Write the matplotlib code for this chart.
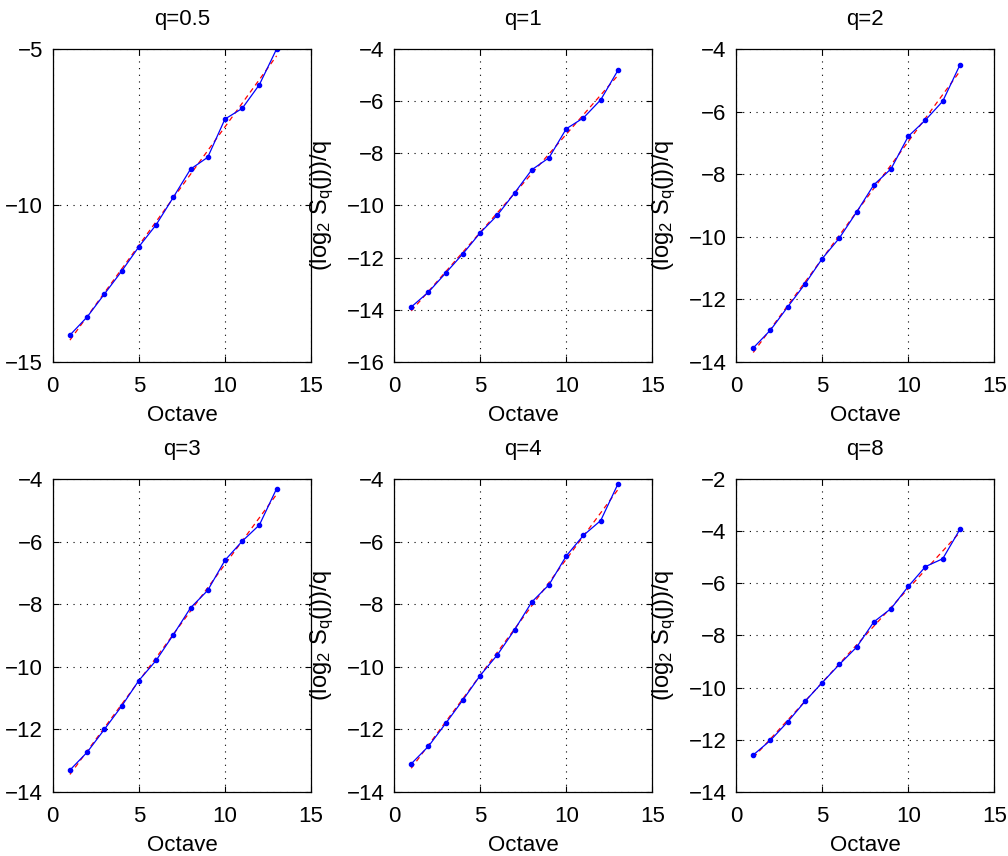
import numpy as np
import matplotlib
matplotlib.use("Agg")
import matplotlib.pyplot as plt

plt.rcParams['font.family'] = ['Liberation Sans', 'DejaVu Sans']
plt.rcParams['mathtext.default'] = 'regular'

# Octave index
octaves = np.arange(1, 14)

# (log2 Sq(j))/q, one list per q
q_titles = ["q=0.5", "q=1", "q=2", "q=3", "q=4", "q=8"]
y_q05 = [-14.14, -13.56, -12.83, -12.10, -11.32, -10.62, -9.74, -8.84, -8.46, -7.24, -6.90, -6.14, -5.00]
y_q1 = [-13.89, -13.32, -12.59, -11.85, -11.05, -10.37, -9.52, -8.63, -8.17, -7.06, -6.64, -5.95, -4.82]
y_q2 = [-13.55, -12.98, -12.24, -11.51, -10.70, -10.04, -9.21, -8.34, -7.83, -6.79, -6.27, -5.67, -4.51]
y_q3 = [-13.30, -12.73, -12.00, -11.26, -10.44, -9.80, -8.98, -8.12, -7.56, -6.60, -5.99, -5.47, -4.31]
y_q4 = [-13.10, -12.54, -11.81, -11.06, -10.28, -9.62, -8.82, -7.93, -7.38, -6.46, -5.80, -5.33, -4.16]
y_q8 = [-12.58, -12.02, -11.31, -10.53, -9.81, -9.11, -8.45, -7.48, -6.97, -6.12, -5.36, -5.06, -3.93]
series = [y_q05, y_q1, y_q2, y_q3, y_q4, y_q8]

# y-axis limits and tick step for each panel
y_limits = [(-15, -5), (-16, -4), (-14, -4), (-14, -4), (-14, -4), (-14, -2)]
y_steps = [5, 2, 2, 2, 2, 2]

fig = plt.figure(figsize=(10.08, 8.56), dpi=100)

# axes boxes (left, bottom, width, height) in figure fraction
lefts = [0.0523, 0.3909, 0.7302]
bottoms = [0.5771, 0.0748]
w, h = 0.2563, 0.3657
fs = 16

for i, (title, y, ylim, step) in enumerate(zip(q_titles, series, y_limits, y_steps)):
    row, col = divmod(i, 3)
    ax = fig.add_axes([lefts[col], bottoms[row], w, h])

    # linear fit (red dashed)
    coef = np.polyfit(octaves, y, 1)
    ax.plot(octaves, np.polyval(coef, octaves), color='red', linestyle=(0, (4, 3)), linewidth=0.9)
    ax.plot(octaves, y, color='blue', marker='.', markersize=6, linewidth=0.9)

    ax.set_xlim(0, 15)
    ax.set_ylim(*ylim)
    ax.set_xticks([0, 5, 10, 15])
    ax.set_yticks(np.arange(ylim[0], ylim[1] + 0.1, step))
    ax.grid(True, color='black', linestyle=(0, (1, 5)), linewidth=0.8)
    ax.tick_params(direction='in', length=4, labelsize=fs, top=True, right=True)
    ax.tick_params(axis='x', pad=10)
    ax.tick_params(axis='y', pad=7)
    for s in ax.spines.values():
        s.set_linewidth(0.9)

    ax.set_title(title, fontsize=fs, pad=17)
    ax.set_xlabel("Octave", fontsize=fs, labelpad=6)
    # the first column's label falls outside the figure in the original, so skip it
    if col > 0:
        ax.set_ylabel("(log$_2$ S$_q$(j))/q", fontsize=fs + 1)
        ax.yaxis.set_label_coords(-0.225, 0.5)

fig.savefig("out.png", dpi=100)
